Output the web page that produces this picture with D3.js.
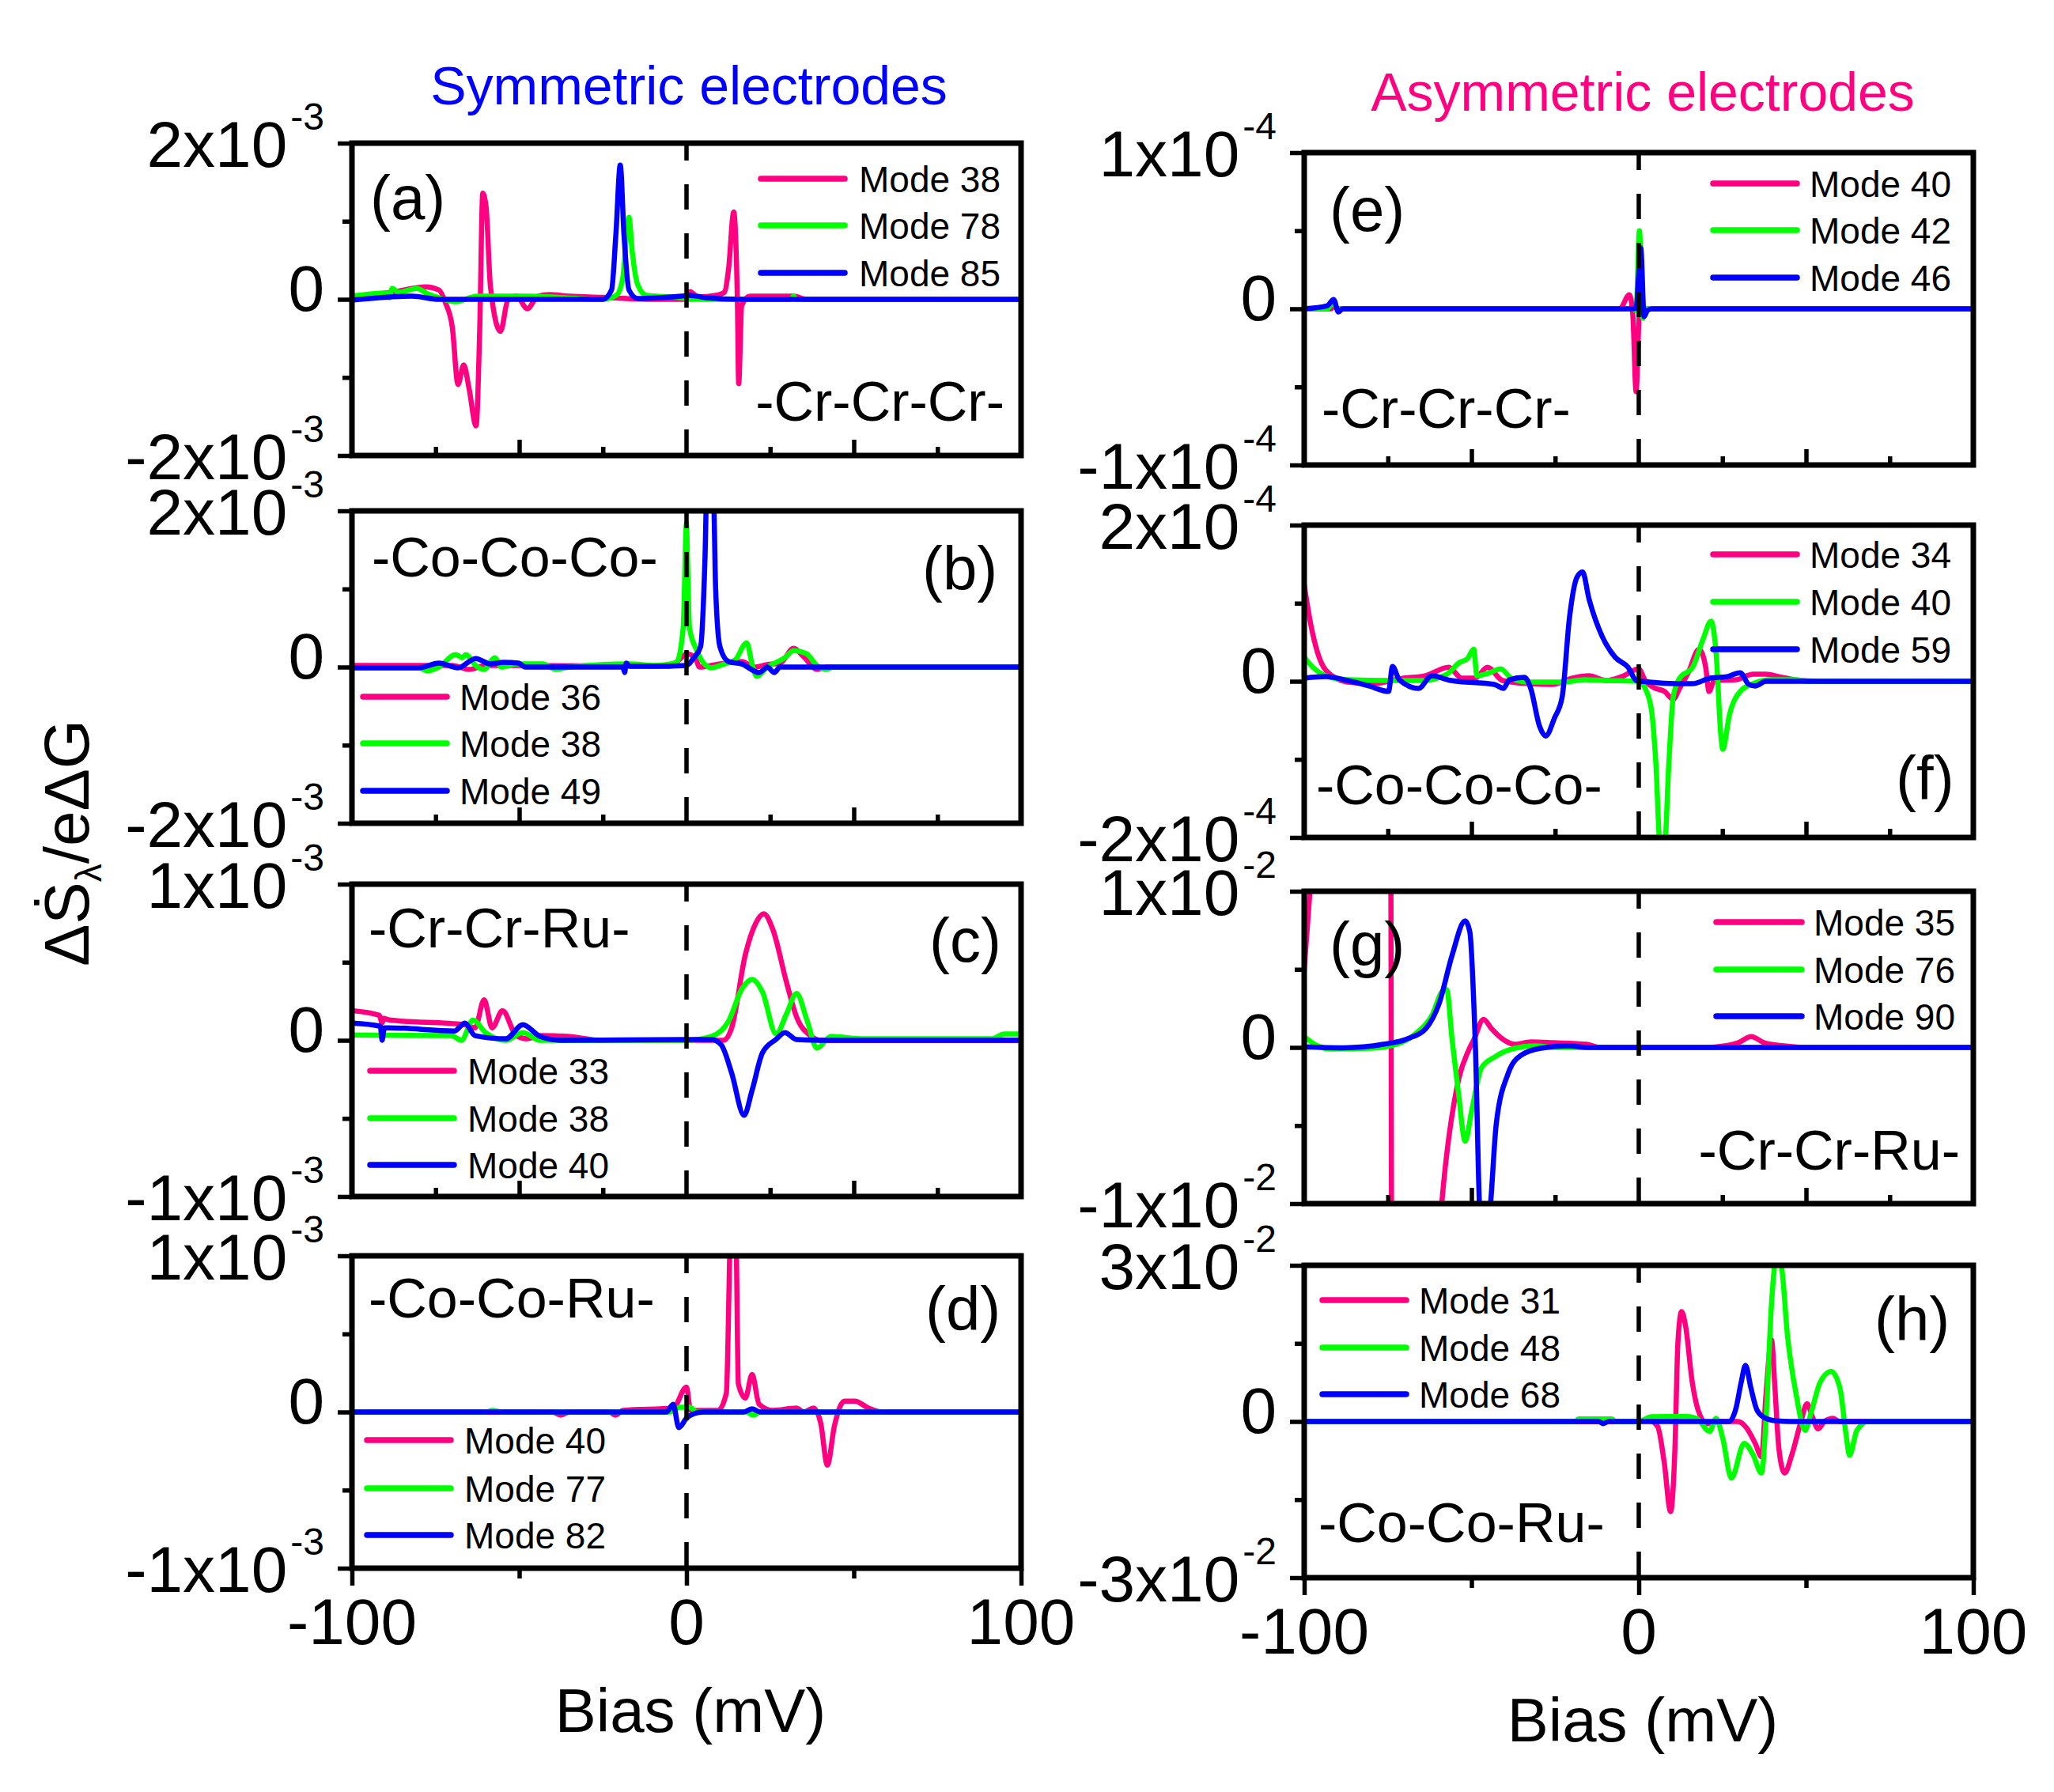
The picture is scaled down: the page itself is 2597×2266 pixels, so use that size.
<!DOCTYPE html>
<html><head><meta charset="utf-8">
<script src="https://cdn.jsdelivr.net/npm/d3@7/dist/d3.min.js"></script>
<style>
body{margin:0;background:#fff}
svg{display:block}
text{font-family:"Liberation Sans",Arial,Helvetica,sans-serif;fill:#000}
</style>
</head><body>
<svg id="chart" width="2597" height="2266"></svg>
<script>
// ---------------- DATA (bias in mV, signal in panel units) ----------------
const biasTicks = [-100, 0, 100];
const biasTickLabels = ["-100", "0", "100"];

// (a) -Cr-Cr-Cr- symmetric, units 1e-3
const namesA = ["Mode 38", "Mode 78", "Mode 85"];
const a38 = [[-100,0.02],[-87,0.1],[-78,0.16],[-74,0.12],[-72,-0.05],[-70,-0.36],[-68.3,-1.09],[-66.6,-0.84],[-65,-1.14],[-62.9,-1.62],[-61.8,-0.36],[-60.9,1.36],[-59.9,1.18],[-58.6,0.16],[-55.6,-0.41],[-53.4,-0.01],[-50.8,0.04],[-47.6,-0.12],[-44.4,0.04],[-41.1,0.06],[-35,0.04],[-22,0.02],[-18,0.01],[-10,0],[0,0],[1,0.1],[3.5,0.03],[8.7,0.05],[11.3,0.09],[12.6,0.4],[14.1,1.12],[15.2,0],[15.6,-1.08],[16.5,-0.08],[19,0.04],[32,0.04],[36,0],[100,0]];
const a78 = [[-100,0.04],[-89.5,0.08],[-88.8,0.02],[-88,0.14],[-86,0.09],[-80.6,0.14],[-77.4,0.07],[-74,0.02],[-69,-0.03],[-62.5,0.04],[-48,0.04],[-25,0],[-21,0.05],[-19.1,0.26],[-17.2,1.05],[-16.2,0.6],[-14.6,0.19],[-12,0.05],[-1.6,0.02],[1,0],[6,0],[31,0],[32,0.04],[33,0],[100,0]];
const a85 = [[-100,-0.01],[-82,0.04],[-74,0],[-25,0],[-22.4,0.12],[-21.1,0.84],[-19.8,1.72],[-18.7,0.84],[-17.2,0.12],[-14.6,0.01],[-1.6,0.04],[1,0.05],[6,0.02],[16,0],[100,0]];

// (b) -Co-Co-Co- symmetric, units 1e-3
const namesB = ["Mode 36", "Mode 38", "Mode 49"];
const b36 = [[-100,0.02],[-70,0.02],[-65,-0.03],[-60,0.02],[-50,0.02],[-5,0.01],[-1,0.14],[0,0.17],[2.6,0.12],[3.9,0],[10,0.04],[16.5,0.07],[20.3,0],[24,0.03],[28,0.05],[32,0.24],[35.3,0.12],[39,-0.03],[42,0],[100,0]];
const b38 = [[-100,-0.01],[-80,-0.01],[-77.4,-0.05],[-74,0],[-69,0.16],[-67,0.12],[-66,0.16],[-63,0.02],[-60.5,-0.03],[-57.3,0.12],[-55.4,0],[-50.8,0.04],[-43,0.04],[-39,-0.03],[-35,0],[-17.2,0.04],[-9.4,0.02],[-3,0.06],[-1,0.5],[0,1.84],[0.3,1.36],[0.9,0.5],[2.9,0.23],[7.4,-0.01],[11.3,0.04],[14.5,0.09],[18,0.31],[19.7,0.02],[21,-0.12],[24.2,0],[29.4,0.12],[32,0.21],[35.9,0.17],[39,0.02],[41.7,-0.03],[44,0],[100,0]];
const b49 = [[-100,-0.01],[-80,-0.01],[-74,0.05],[-68.3,-0.01],[-63,0.11],[-58.6,0.04],[-54.7,0.06],[-50.2,0.05],[-48.2,0],[-19,0],[-18.5,-0.07],[-18,0.05],[-17,0.01],[-9,0.01],[0,0.02],[2.2,0.12],[4.2,0.26],[5.5,1.36],[6.1,2.3],[8,2.3],[8.7,1.01],[10,0.26],[12.6,0.07],[16.5,0.04],[21.7,-0.07],[24.2,0],[26.2,-0.07],[28,0],[100,0]];

// (c) -Cr-Cr-Ru- symmetric, units 1e-3
const namesC = ["Mode 33", "Mode 38", "Mode 40"];
const c33 = [[-100,0.19],[-91.8,0.16],[-91,0.11],[-90.5,0.14],[-88.8,0.13],[-66.3,0.1],[-63.2,0.08],[-60.5,0.26],[-58.1,0.08],[-55,0.19],[-50.9,0.03],[-47.9,0.01],[-43.8,0.03],[-35.6,0.025],[-25.4,0],[0,0],[11,0],[13.5,0.08],[17.6,0.55],[20.7,0.75],[23.1,0.81],[25.8,0.71],[29.9,0.37],[32.9,0.15],[37,0.03],[40,0],[100,0]];
const c38 = [[-100,0.034],[-70.3,0.03],[-67.3,0],[-63.8,0.13],[-60.1,0.05],[-54,0],[-48.9,0.05],[-43.8,0],[0,0],[7.4,0.025],[12.5,0.12],[16.6,0.33],[19.6,0.39],[22.7,0.31],[26.8,0.04],[29.9,0.17],[32.9,0.3],[36,0.13],[39,-0.05],[43.2,0.025],[52,0.01],[91.2,0.01],[95,0.04],[100,0.04]];
const c40 = [[-100,0.11],[-91.5,0.09],[-91,0],[-90.3,0.08],[-88.8,0.08],[-69.3,0.06],[-66.3,0.11],[-63.2,0.03],[-54,0.01],[-48.9,0.1],[-43.8,0.025],[-37.6,0],[0,0.005],[7.5,0.005],[10.4,-0.03],[13.5,-0.21],[17.2,-0.48],[19.6,-0.32],[22.7,-0.08],[26.8,0.007],[29.4,0.05],[32.9,0.005],[40,0],[100,0]];

// (d) -Co-Co-Ru- symmetric, units 1e-3
const namesD = ["Mode 40", "Mode 77", "Mode 82"];
const d40 = [[-100,0],[-40,0],[-37.6,-0.02],[-35,0],[-23,0],[-21.3,-0.02],[-19,0.01],[-4,0.025],[0,0.16],[1.2,0.01],[9.4,0.01],[11.9,0.12],[13.3,1.2],[14.7,1.2],[15.5,0.18],[17.6,0.09],[19.6,0.24],[21.7,0.05],[25.8,0.01],[32.9,0.025],[35,0],[38,0.025],[40.1,-0.07],[42.1,-0.34],[44.2,-0.09],[47.2,0.07],[50.3,0.07],[54.4,0.025],[58.5,0],[100,0]];
const d77 = [[-100,0],[-60,0],[-58,0.01],[-55,0],[-5,0],[-2,0.03],[1,0.03],[3,0],[18,0],[20,-0.02],[22,0],[100,0]];
const d82 = [[-100,0],[-6,0],[-4,0.05],[-2.3,-0.1],[0,-0.04],[2.3,-0.01],[5,0],[17,0],[19.6,0.02],[22,0],[100,0]];

// (e) -Cr-Cr-Cr- asymmetric, units 1e-4
const namesE = ["Mode 40", "Mode 42", "Mode 46"];
const e40 = [[-100,0],[-92,0],[-91,0.02],[-90,0],[-5.7,0],[-2.8,0.09],[-1.8,-0.03],[-0.8,-0.53],[0.2,-0.03],[1.5,0],[100,0]];
const e42 = [[-100,0],[-93,0],[-91.5,0.04],[-90,0],[-2,0],[-0.8,-0.01],[0.2,0.5],[1.2,-0.06],[2.2,0],[100,0]];
const e46 = [[-100,0],[-93.1,0.02],[-91.2,0.06],[-89.8,-0.02],[-88.5,0],[-2,0],[-0.8,0.005],[0.6,0.39],[1.6,-0.05],[2.6,-0.01],[4,0],[100,0]];

// (f) -Co-Co-Co- asymmetric, units 1e-4
const namesF = ["Mode 34", "Mode 40", "Mode 59"];
const f34 = [[-100,1.23],[-98,0.72],[-96.1,0.38],[-93.5,0.14],[-87.1,-0.01],[-79.4,-0.03],[-70.3,0.04],[-63.9,0.07],[-56.8,0.18],[-52.9,0.04],[-49,0.04],[-45.2,0.18],[-40.7,0.01],[-32.9,-0.03],[-25.8,-0.04],[-20,0.04],[-14.9,0.07],[-9.7,0.01],[-4.5,0.07],[0,0.16],[1.9,0.01],[4.5,-0.08],[7.7,-0.13],[10.3,-0.23],[12.2,-0.09],[14.8,0.11],[18,0.41],[20,0.18],[21,-0.13],[22.6,0.01],[29,0.02],[34.2,0.09],[38,0.09],[41.9,0.06],[48.4,0.01],[55,0],[100,0]];
const f40 = [[-100,0.31],[-97.4,0.18],[-93.5,0.07],[-87.1,0.02],[-74.2,0.01],[-64.5,0.01],[-57.4,0.09],[-53.6,0.24],[-51.2,0.29],[-49.3,0.41],[-48.4,0.07],[-44.5,0.11],[-41.3,0.16],[-38.1,0.04],[-32.9,-0.01],[-22.6,-0.01],[-16.2,0.02],[-9.7,0.01],[0,0],[1.9,-0.09],[3.8,-0.37],[5.1,-1.04],[6.4,-2.1],[7.7,-2.1],[9,-1.04],[10.3,-0.2],[12.2,0.04],[16.1,0.18],[19.3,0.55],[21.6,0.77],[23.2,0.31],[24.5,-0.67],[25.1,-0.87],[27.1,-0.43],[30.3,-0.13],[34.2,-0.03],[39.4,0.02],[47.1,0.02],[50,0],[100,0]];
const f59 = [[-100,0.04],[-93.5,0.06],[-87.1,0.01],[-80.6,-0.06],[-74.8,-0.13],[-73.6,0.19],[-71.6,0.02],[-65.8,-0.09],[-61.9,0.07],[-56.1,0.01],[-43.2,-0.04],[-40.4,-0.09],[-38.7,0.02],[-34.2,0.05],[-32.3,-0.09],[-29.7,-0.57],[-27.8,-0.7],[-25.2,-0.47],[-22.9,-0.2],[-20.7,0.82],[-18.5,1.33],[-16.8,1.4],[-14.9,1.06],[-11,0.58],[-7.1,0.31],[-3.2,0.18],[-0.7,0.01],[3.2,-0.01],[10.9,-0.03],[16.1,-0.03],[21.3,0.04],[26.4,0.06],[30.3,0.11],[32.9,-0.04],[34.8,-0.06],[38,0],[100,0]];

// (g) -Cr-Cr-Ru- asymmetric, units 1e-2
const namesG = ["Mode 35", "Mode 76", "Mode 90"];
const g35 = [[-100,0.5],[-97.6,1.2],[-96,1.6],[-75,1.6],[-74.1,1.2],[-73.9,-1.2],[-73,-1.6],[-61,-1.6],[-59.1,-1.05],[-53.8,-0.2],[-50.9,-0.02],[-49.3,0.05],[-46.4,0.18],[-44,0.12],[-41.1,0.06],[-37.1,0.02],[-32.2,0.035],[-25.3,0.03],[-15.5,0.02],[-11.6,0],[0,0],[20,0],[25.7,0.01],[29.7,0.03],[33.6,0.07],[37.5,0.03],[43.4,0.01],[50,0],[100,0]];
const g76 = [[-100,0.07],[-96,0.01],[-92,-0.01],[-80.4,-0.005],[-72.5,0.02],[-66.6,0.09],[-61.7,0.21],[-58.7,0.36],[-57.4,0.37],[-55.8,0.05],[-53.8,-0.31],[-51.9,-0.6],[-49.9,-0.4],[-47,-0.13],[-43,-0.06],[-37.1,-0.005],[-31.2,0.01],[-25,0],[100,0]];
const g90 = [[-100,0.004],[-88.2,-0.002],[-76.4,0.02],[-68.6,0.06],[-63.7,0.12],[-59.7,0.28],[-55.8,0.59],[-51.9,0.81],[-50.5,0.74],[-48.9,0.05],[-47.3,-1.1],[-45,-1.1],[-42.6,-0.49],[-39.1,-0.17],[-35.2,-0.05],[-29.3,-0.005],[-21.4,0.01],[-15,0],[100,0]];

// (h) -Co-Co-Ru- asymmetric, units 1e-2
const namesH = ["Mode 31", "Mode 48", "Mode 68"];
const h31 = [[-100,0],[0,0],[2.4,0.04],[5.6,-0.09],[7.6,-0.78],[9.5,-1.73],[10.8,-0.53],[11.7,1.52],[12.8,2.11],[14,1.83],[16,0.75],[17.9,0.19],[20.5,-0.04],[24.4,0],[29.6,0],[32.2,-0.12],[34.8,-0.42],[36.7,-0.68],[38,0.5],[39.7,1.57],[40.6,0.75],[41.9,-0.53],[43.6,-0.99],[45.8,-0.63],[48.4,-0.02],[50.3,0.34],[51.9,0.09],[53.6,-0.14],[55.5,0],[58.1,0.06],[60,0],[100,0]];
const h48 = [[-100,0],[-19,0],[-18,0.05],[-8,0.05],[-7,0],[0,0],[3.7,0.09],[14,0.1],[17.3,0.06],[21.2,-0.19],[23.1,0.06],[25.1,-0.32],[27.7,-1.09],[31.5,-0.42],[34.1,-0.63],[36.7,-0.99],[38,0],[39.7,2.29],[41.3,3.2],[42.6,3],[44.5,1.62],[47.1,0.5],[49.7,-0.17],[51.6,0.19],[54.2,0.75],[57.5,0.96],[60.1,0.65],[62,-0.27],[63,-0.65],[65.2,-0.17],[68.5,0],[100,0]];
const h68 = [[-100,0],[-12,0],[-10.6,-0.04],[-9,0],[27,0],[29,0.24],[30.6,0.75],[31.9,1.08],[33.5,0.65],[35.4,0.21],[38,0.06],[41.3,0.01],[45,0],[100,0]];

// y tick values and labels per panel (labels: main^superscript)
const yTicksA = [-2, 0, 2], yLabelsA = ["-2x10^-3", "0", "2x10^-3"];
const yTicksC = [-1, 0, 1], yLabelsC = ["-1x10^-3", "0", "1x10^-3"];
const yTicksE = [-1, 0, 1], yLabelsE = ["-1x10^-4", "0", "1x10^-4"];
const yTicksF = [-2, 0, 2], yLabelsF = ["-2x10^-4", "0", "2x10^-4"];
const yTicksG = [-1, 0, 1], yLabelsG = ["-1x10^-2", "0", "1x10^-2"];
const yTicksH = [-3, 0, 3], yLabelsH = ["-3x10^-2", "0", "3x10^-2"];

// ---------------- LAYOUT ----------------
const colors = ["#ff0080", "#00ff00", "#0000ff"];
const L = 445, R = 1649, W = 846, H = 395;
const panels = [
  {x:L, y:181, series:[a38,a78,a85], names:namesA, ticks:yTicksA, labels:yLabelsA, minor:[-1,1], bottom:false,
   leg:{x1:962,x2:1068,tx:1086,ys:[226,285,345]}, tag:{t:"(a)",x:468,y:277}, mol:{t:"-Cr-Cr-Cr-",x:1270,y:532,a:"end"}},
  {x:L, y:646, series:[b36,b38,b49], names:namesB, ticks:yTicksA, labels:yLabelsA, minor:[-1,1], bottom:false,
   leg:{x1:459,x2:565,tx:581,ys:[881,940,1000]}, tag:{t:"(b)",x:1166,y:746}, mol:{t:"-Co-Co-Co-",x:470,y:729,a:"start"}},
  {x:L, y:1118, series:[c33,c38,c40], names:namesC, ticks:yTicksC, labels:yLabelsC, minor:[-0.5,0.5], bottom:false,
   leg:{x1:468,x2:574,tx:591,ys:[1354,1414,1473]}, tag:{t:"(c)",x:1175,y:1216}, mol:{t:"-Cr-Cr-Ru-",x:466,y:1198,a:"start"}},
  {x:L, y:1588, series:[d40,d77,d82], names:namesD, ticks:yTicksC, labels:yLabelsC, minor:[-0.5,0.5], bottom:true,
   leg:{x1:464,x2:570,tx:587,ys:[1821,1882,1941]}, tag:{t:"(d)",x:1170,y:1682}, mol:{t:"-Co-Co-Ru-",x:466,y:1666,a:"start"}},
  {x:R, y:193, series:[e40,e42,e46], names:namesE, ticks:yTicksE, labels:yLabelsE, minor:[-0.5,0.5], bottom:false,
   leg:{x1:2166,x2:2272,tx:2288,ys:[232,291,351]}, tag:{t:"(e)",x:1681,y:292}, mol:{t:"-Cr-Cr-Cr-",x:1671,y:541,a:"start"}},
  {x:R, y:664, series:[f34,f40,f59], names:namesF, ticks:yTicksF, labels:yLabelsF, minor:[-1,1], bottom:false,
   leg:{x1:2166,x2:2272,tx:2288,ys:[701,761,821]}, tag:{t:"(f)",x:2397,y:1011}, mol:{t:"-Co-Co-Co-",x:1664,y:1017,a:"start"}},
  {x:R, y:1127, series:[g35,g76,g90], names:namesG, ticks:yTicksG, labels:yLabelsG, minor:[-0.5,0.5], bottom:false,
   leg:{x1:2170,x2:2278,tx:2293,ys:[1166,1226,1285]}, tag:{t:"(g)",x:1681,y:1221}, mol:{t:"-Cr-Cr-Ru-",x:2478,y:1479,a:"end"}},
  {x:R, y:1600, series:[h31,h48,h68], names:namesH, ticks:yTicksH, labels:yLabelsH, minor:[-1.5,1.5], bottom:true,
   leg:{x1:1672,x2:1778,tx:1794,ys:[1644,1704,1763]}, tag:{t:"(h)",x:2370,y:1695}, mol:{t:"-Co-Co-Ru-",x:1667,y:1950,a:"start"}}
];

const svg = d3.select("#chart");
svg.append("rect").attr("width",2597).attr("height",2266).attr("fill","#fff");

// titles
svg.append("text").attr("x",871).attr("y",132).attr("text-anchor","middle")
  .attr("font-size",68).style("fill","#0000ff").text("Symmetric electrodes");
svg.append("text").attr("x",2077).attr("y",140).attr("text-anchor","middle")
  .attr("font-size",68).style("fill","#ff0080").text("Asymmetric electrodes");

// y axis title
const yt = svg.append("text").attr("transform","translate(112,1066) rotate(-90)")
  .attr("text-anchor","middle").attr("font-size",80);
yt.append("tspan").text("\u0394\u1E60");
yt.append("tspan").attr("font-size",46).attr("dy",16).text("\u03BB");
yt.append("tspan").attr("dy",-16).text("/e\u0394G");

panels.forEach((p, i) => {
  const dom = [p.ticks[0], p.ticks[2]];
  const xs = d3.scaleLinear().domain([-100, 100]).range([p.x, p.x + W]);
  const ys = d3.scaleLinear().domain(dom).range([p.y + H, p.y]);
  const g = svg.append("g");
  const cid = "clip" + i;
  svg.append("clipPath").attr("id", cid).append("rect")
    .attr("x", p.x).attr("y", p.y).attr("width", W).attr("height", H);

  // curves
  const line = d3.line().x(d => xs(d[0])).y(d => ys(d[1])).curve(d3.curveMonotoneX);
  const cg = g.append("g").attr("clip-path", `url(#${cid})`);
  p.series.forEach((s, k) => {
    cg.append("path").datum(s).attr("d", line).attr("fill","none")
      .attr("stroke", colors[k]).attr("stroke-width", 6.5)
      .attr("stroke-linejoin","round").attr("stroke-linecap","round");
  });

  // dashed zero-bias line
  g.append("line").attr("x1", xs(0)).attr("x2", xs(0)).attr("y1", p.y).attr("y2", p.y + H)
    .attr("stroke","#000").attr("stroke-width",5.5).attr("stroke-dasharray","32,30")
    .attr("stroke-dashoffset", 10);

  // frame
  g.append("rect").attr("x", p.x).attr("y", p.y).attr("width", W).attr("height", H)
    .attr("fill","none").attr("stroke","#000").attr("stroke-width",7);

  // y ticks via d3 axes
  const styleAx = sel => { sel.select(".domain").remove(); sel.selectAll("line").attr("stroke","#000").attr("stroke-width",5.5); sel.selectAll("text").remove(); };
  g.append("g").attr("transform",`translate(${p.x},0)`)
    .call(d3.axisLeft(ys).tickValues(p.ticks).tickSize(18).tickFormat("")).call(styleAx);
  g.append("g").attr("transform",`translate(${p.x},0)`)
    .call(d3.axisLeft(ys).tickValues(p.minor).tickSize(12).tickFormat("")).call(styleAx);

  // x ticks
  if (p.bottom) {
    g.append("g").attr("transform",`translate(0,${p.y + H})`)
      .call(d3.axisBottom(xs).tickValues(biasTicks).tickSize(22).tickFormat("")).call(styleAx);
    g.append("g").attr("transform",`translate(0,${p.y + H})`)
      .call(d3.axisBottom(xs).tickValues([-50, 50]).tickSize(13).tickFormat("")).call(styleAx);
    biasTicks.forEach((v, j) => {
      g.append("text").attr("x", xs(v)).attr("y", p.y + H + 96).attr("text-anchor","middle")
        .attr("font-size",82).text(biasTickLabels[j]);
    });
    g.append("text").attr("x", p.x + W / 2 + 5).attr("y", p.y + H + 207).attr("text-anchor","middle")
      .attr("font-size",78).text("Bias (mV)");
  } else {
    g.append("g").attr("transform",`translate(0,${p.y + H})`)
      .call(d3.axisBottom(xs).tickValues([-50, 50]).tickSize(-20).tickFormat("")).call(styleAx);
    g.append("g").attr("transform",`translate(0,${p.y + H})`)
      .call(d3.axisBottom(xs).tickValues([-75, -25, 25, 75]).tickSize(-11).tickFormat("")).call(styleAx);
  }

  // y tick labels
  p.ticks.forEach((v, j) => {
    const lab = p.labels[j];
    const ty = ys(v);
    const t = g.append("text").attr("x", p.x - 35).attr("text-anchor","end").attr("font-size",82);
    if (lab.indexOf("^") >= 0) {
      const parts = lab.split("^");
      t.attr("y", ty + 30);
      t.append("tspan").text(parts[0]);
      t.append("tspan").attr("font-size",48).attr("dx",4).attr("dy",-47).text(parts[1]);
    } else {
      t.attr("y", ty + 14).text(lab);
    }
  });

  // legend
  p.names.forEach((n, k) => {
    g.append("line").attr("x1", p.leg.x1).attr("x2", p.leg.x2).attr("y1", p.leg.ys[k]).attr("y2", p.leg.ys[k])
      .attr("stroke", colors[k]).attr("stroke-width",7.5).attr("stroke-linecap","round");
    g.append("text").attr("x", p.leg.tx).attr("y", p.leg.ys[k] + 17).attr("font-size",46).text(n);
  });

  // panel tag and molecule label
  g.append("text").attr("x", p.tag.x).attr("y", p.tag.y).attr("font-size",78).text(p.tag.t);
  g.append("text").attr("x", p.mol.x).attr("y", p.mol.y).attr("text-anchor", p.mol.a)
    .attr("font-size",70).text(p.mol.t);
});
</script>
</body></html>
